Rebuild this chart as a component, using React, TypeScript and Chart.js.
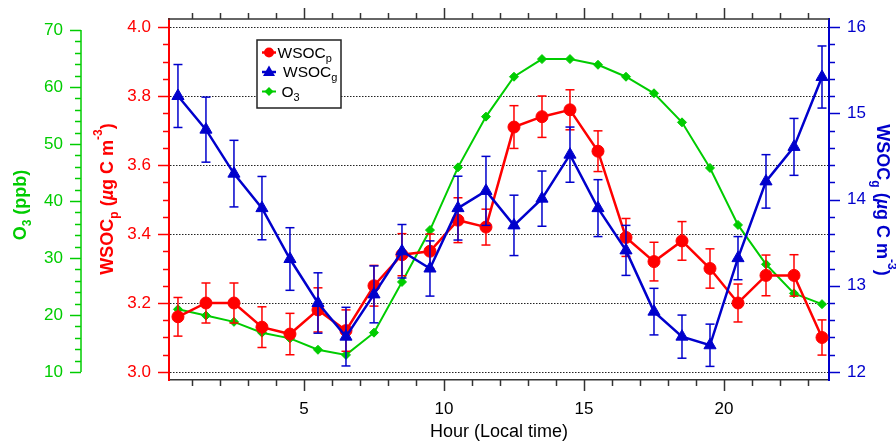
import React, { useEffect, useRef } from 'react';
import { Chart, registerables } from 'chart.js';

Chart.register(...registerables);

const FAMILY = "'Liberation Sans', Arial, Helvetica, sans-serif";

// ---- data ----
const HOURS = [0.5, 1.5, 2.5, 3.5, 4.5, 5.5, 6.5, 7.5, 8.5, 9.5, 10.5, 11.5, 12.5, 13.5, 14.5, 15.5, 16.5, 17.5, 18.5, 19.5, 20.5, 21.5, 22.5, 23.5];
const WSOCP = [3.16, 3.20, 3.20, 3.13, 3.11, 3.18, 3.12, 3.25, 3.34, 3.35, 3.44, 3.42, 3.71, 3.74, 3.76, 3.64, 3.39, 3.32, 3.38, 3.30, 3.20, 3.28, 3.28, 3.10];
const WSOCP_ERR = [0.056, 0.058, 0.058, 0.059, 0.06, 0.064, 0.06, 0.059, 0.061, 0.05, 0.065, 0.052, 0.062, 0.06, 0.058, 0.059, 0.055, 0.056, 0.056, 0.057, 0.055, 0.059, 0.06, 0.051];
const WSOCG = [15.20, 14.81, 14.30, 13.90, 13.31, 12.80, 12.41, 12.90, 13.40, 13.20, 13.90, 14.10, 13.70, 14.01, 14.52, 13.90, 13.41, 12.70, 12.41, 12.31, 13.32, 14.21, 14.61, 15.42];
const WSOCG_ERR = [0.365, 0.377, 0.386, 0.367, 0.363, 0.35, 0.34, 0.33, 0.31, 0.32, 0.37, 0.4, 0.35, 0.32, 0.32, 0.33, 0.29, 0.27, 0.25, 0.245, 0.25, 0.31, 0.33, 0.36];
const O3 = [21.0, 19.9, 18.8, 16.9, 15.9, 13.9, 13.0, 16.9, 25.8, 34.9, 45.9, 54.8, 61.8, 64.9, 64.9, 63.9, 61.8, 58.9, 53.8, 45.8, 35.8, 28.9, 23.8, 21.9];

// ---- ticks ----
const X_MAJOR = [5, 10, 15, 20];
const X_MINOR = [1, 2, 3, 4, 5, 6, 7, 8, 9, 10, 11, 12, 13, 14, 15, 16, 17, 18, 19, 20, 21, 22, 23];
const RED_MAJOR = [3.0, 3.2, 3.4, 3.6, 3.8, 4.0];
const GREEN_MAJOR = [10, 20, 30, 40, 50, 60, 70];
const BLUE_MAJOR = [12, 13, 14, 15, 16];

const RED = '#FF0000';
const BLUE = '#0000CC';
const GREEN = '#00CC00';
const FRAME = '#333333';

function range(a: number, b: number, s: number): number[] {
  const out: number[] = [];
  for (let i = 0; a + i * s <= b + 1e-9; i++) out.push(+(a + i * s).toFixed(4));
  return out;
}
const RED_MINOR = range(3.0, 4.0, 0.05);
const GREEN_MINOR = range(10, 70, 2);
const BLUE_MINOR = range(12, 16, 0.2);

function line(ctx: CanvasRenderingContext2D, x1: number, y1: number, x2: number, y2: number) {
  ctx.beginPath();
  ctx.moveTo(x1, y1);
  ctx.lineTo(x2, y2);
  ctx.stroke();
}

type Part = { t: string; sub?: boolean; sup?: boolean; italic?: boolean };

function drawRich(
  ctx: CanvasRenderingContext2D, parts: Part[], size: number, bold: boolean, color: string,
  x: number, y: number, rot: number, center: boolean
) {
  ctx.save();
  ctx.translate(x, y);
  ctx.rotate(rot);
  const fontFor = (p: Part) => {
    const s = p.sub || p.sup ? Math.round(size * 0.68) : size;
    return `${p.italic ? 'italic ' : ''}${bold ? 'bold ' : ''}${s}px ${FAMILY}`;
  };
  let w = 0;
  parts.forEach((p) => { ctx.font = fontFor(p); w += ctx.measureText(p.t).width; });
  let cx = center ? -w / 2 : 0;
  ctx.fillStyle = color;
  ctx.textAlign = 'left';
  ctx.textBaseline = 'alphabetic';
  parts.forEach((p) => {
    ctx.font = fontFor(p);
    const dy = p.sub ? size * 0.27 : p.sup ? -size * 0.62 : 0;
    ctx.fillText(p.t, cx, dy);
    cx += ctx.measureText(p.t).width;
  });
  ctx.restore();
}

const errorBarPlugin = {
  id: 'errorBars',
  beforeDatasetDraw(chart: any, args: any) {
    const ds = chart.data.datasets[args.index];
    const errs: number[] | undefined = ds.errorValues;
    if (!errs) return;
    const meta = args.meta;
    const ys = chart.scales[meta.yAxisID];
    const ctx: CanvasRenderingContext2D = chart.ctx;
    ctx.save();
    ctx.strokeStyle = ds.borderColor;
    ctx.lineWidth = 1.5;
    meta.data.forEach((pt: any, i: number) => {
      const v = ds.data[i].y;
      const top = ys.getPixelForValue(v + errs[i]);
      const bot = ys.getPixelForValue(v - errs[i]);
      line(ctx, pt.x, top, pt.x, bot);
      line(ctx, pt.x - 4.5, top, pt.x + 4.5, top);
      line(ctx, pt.x - 4.5, bot, pt.x + 4.5, bot);
    });
    ctx.restore();
  },
};

const decorPlugin = {
  id: 'decor',
  beforeDatasetsDraw(chart: any) {
    const ctx: CanvasRenderingContext2D = chart.ctx;
    const a = chart.chartArea;
    const yP = chart.scales.yP;
    ctx.save();
    ctx.strokeStyle = '#222';
    ctx.lineWidth = 1;
    ctx.setLineDash([1.5, 1.5]);
    RED_MAJOR.forEach((v) => {
      const y = Math.round(yP.getPixelForValue(v)) + 0.5;
      line(ctx, a.left + 1, y, a.right - 1, y);
    });
    ctx.restore();
  },
  afterDraw(chart: any) {
    const ctx: CanvasRenderingContext2D = chart.ctx;
    const a = chart.chartArea;
    const { x, yP, yO3, yG } = chart.scales;
    const L = a.left, R = a.right, T = a.top, B = a.bottom;
    ctx.save();
    // top frame + x ticks
    ctx.strokeStyle = FRAME;
    ctx.lineWidth = 1.5;
    line(ctx, L - 1, T, R, T);
    X_MINOR.forEach((v) => {
      const px = Math.round(x.getPixelForValue(v)) + 0.5;
      const len = X_MAJOR.includes(v) ? 11 : 6;
      line(ctx, px, B, px, B + len);
      line(ctx, px, T, px, T - len);
    });
    // red ticks
    ctx.strokeStyle = RED;
    RED_MINOR.forEach((v) => {
      const py = Math.round(yP.getPixelForValue(v)) + 0.5;
      const len = RED_MAJOR.some((m) => Math.abs(m - v) < 1e-6) ? 11 : 6;
      line(ctx, L - len, py, L, py);
    });
    // green axis
    ctx.strokeStyle = GREEN;
    const gx = yO3.right;
    line(ctx, gx, yO3.getPixelForValue(10), gx, yO3.getPixelForValue(70));
    GREEN_MINOR.forEach((v) => {
      const py = Math.round(yO3.getPixelForValue(v)) + 0.5;
      const len = GREEN_MAJOR.includes(v) ? 11 : 6;
      line(ctx, gx - len, py, gx, py);
    });
    // blue ticks
    ctx.strokeStyle = BLUE;
    BLUE_MINOR.forEach((v) => {
      const py = Math.round(yG.getPixelForValue(v)) + 0.5;
      const len = BLUE_MAJOR.some((m) => Math.abs(m - v) < 1e-6) ? 11 : 6;
      line(ctx, R, py, R + len, py);
    });
    ctx.restore();

    // axis titles
    drawRich(ctx, [{ t: 'O' }, { t: '3', sub: true }, { t: ' (ppb)' }], 18, true, GREEN, 26, 205, -Math.PI / 2, true);
    drawRich(ctx, [{ t: 'WSOC' }, { t: 'p', sub: true }, { t: ' (' }, { t: 'µ', italic: true }, { t: 'g C m' }, { t: '-3', sup: true }, { t: ')' }], 18, true, RED, 113, 199, -Math.PI / 2, true);
    drawRich(ctx, [{ t: 'WSOC' }, { t: 'g', sub: true }, { t: ' (' }, { t: 'µ', italic: true }, { t: 'g C m' }, { t: '-3', sup: true }, { t: ')' }], 18, true, BLUE, 877, 200, Math.PI / 2, true);

    // legend
    ctx.save();
    ctx.fillStyle = '#fff';
    ctx.fillRect(257, 40, 84, 68);
    ctx.strokeStyle = '#222';
    ctx.lineWidth = 1.5;
    ctx.strokeRect(257, 40, 84, 68);
    // red entry
    ctx.strokeStyle = RED; ctx.fillStyle = RED; ctx.lineWidth = 2.5;
    line(ctx, 262, 52.5, 276, 52.5);
    ctx.beginPath(); ctx.arc(269, 52.5, 5, 0, Math.PI * 2); ctx.fill();
    // blue entry
    ctx.strokeStyle = BLUE; ctx.fillStyle = BLUE;
    line(ctx, 262, 72, 276, 72);
    ctx.beginPath(); ctx.moveTo(269, 65.5); ctx.lineTo(275, 76); ctx.lineTo(263, 76); ctx.closePath(); ctx.fill();
    // green entry
    ctx.strokeStyle = GREEN; ctx.fillStyle = GREEN; ctx.lineWidth = 2;
    line(ctx, 262, 91.5, 276, 91.5);
    ctx.beginPath(); ctx.moveTo(269, 87); ctx.lineTo(273.5, 91.5); ctx.lineTo(269, 96); ctx.lineTo(264.5, 91.5); ctx.closePath(); ctx.fill();
    ctx.restore();
    drawRich(ctx, [{ t: 'WSOC' }, { t: 'p', sub: true }], 15.5, false, '#000', 277.5, 57.5, 0, false);
    drawRich(ctx, [{ t: 'WSOC' }, { t: 'g', sub: true }], 15.5, false, '#000', 283, 77, 0, false);
    drawRich(ctx, [{ t: 'O' }, { t: '3', sub: true }], 15.5, false, '#000', 281.5, 97, 0, false);
  },
};

export default function App() {
  const ref = useRef<HTMLCanvasElement | null>(null);

  useEffect(() => {
    if (!ref.current) return;
    const toXY = (vals: number[]) => HOURS.map((h, i) => ({ x: h, y: vals[i] }));
    const tickFont = { family: FAMILY, size: 17 };
    const hiddenGrid = { display: true, drawOnChartArea: false, drawTicks: true, tickLength: 11, tickColor: 'rgba(0,0,0,0)' };

    const chart = new Chart(ref.current, {
      type: 'line',
      data: {
        datasets: [
          {
            label: 'WSOCg',
            data: toXY(WSOCG),
            errorValues: WSOCG_ERR,
            yAxisID: 'yG',
            borderColor: BLUE,
            backgroundColor: BLUE,
            borderWidth: 2.5,
            pointStyle: 'triangle',
            pointRadius: 7,
            pointBorderWidth: 1,
            tension: 0,
            order: 0,
          } as any,
          {
            label: 'WSOCp',
            data: toXY(WSOCP),
            errorValues: WSOCP_ERR,
            yAxisID: 'yP',
            borderColor: RED,
            backgroundColor: RED,
            borderWidth: 2.5,
            pointStyle: 'circle',
            pointRadius: 6,
            pointBorderWidth: 1,
            tension: 0,
            order: 1,
          } as any,
          {
            label: 'O3',
            data: toXY(O3),
            yAxisID: 'yO3',
            borderColor: GREEN,
            backgroundColor: GREEN,
            borderWidth: 2,
            pointStyle: 'rectRot',
            pointRadius: 4.5,
            pointBorderWidth: 1,
            tension: 0,
            order: 2,
          } as any,
        ],
      },
      options: {
        animation: false,
        responsive: true,
        maintainAspectRatio: false,
        layout: { padding: { top: 19, left: 0, right: 0, bottom: 0 } },
        plugins: { legend: { display: false }, tooltip: { enabled: false } },
        scales: {
          x: {
            type: 'linear',
            position: 'bottom',
            min: 0.18,
            max: 23.75,
            afterBuildTicks: (s: any) => { s.ticks = X_MAJOR.map((v) => ({ value: v })); },
            afterFit: (s: any) => { s.height = 61; },
            ticks: { color: '#000', font: tickFont, padding: 8, maxRotation: 0, autoSkip: false, callback: (v: any) => String(v) },
            grid: hiddenGrid,
            border: { display: true, color: FRAME, width: 1.5 },
            title: { display: true, text: 'Hour (Local time)', color: '#000', font: { family: FAMILY, size: 18, lineHeight: 1 }, padding: { top: 0, bottom: 0 } },
          },
          yP: {
            type: 'linear',
            position: 'left',
            weight: 0,
            min: 3 - 8 / 345,
            max: 3 - 8 / 345 + 361 / 345,
            afterBuildTicks: (s: any) => { s.ticks = RED_MAJOR.map((v) => ({ value: v })); },
            afterFit: (s: any) => { s.width = 88; },
            ticks: { color: RED, font: tickFont, padding: 7, callback: (v: any) => Number(v).toFixed(1) },
            grid: hiddenGrid,
            border: { display: true, color: RED, width: 2 },
          },
          yO3: {
            type: 'linear',
            position: 'left',
            weight: 1,
            min: 10 - 8 / 5.7,
            max: 10 - 8 / 5.7 + 361 / 5.7,
            afterBuildTicks: (s: any) => { s.ticks = GREEN_MAJOR.map((v) => ({ value: v })); },
            afterFit: (s: any) => { s.width = 81; },
            ticks: { color: GREEN, font: tickFont, padding: 7, callback: (v: any) => String(v) },
            grid: hiddenGrid,
            border: { display: false },
          },
          yG: {
            type: 'linear',
            position: 'right',
            min: 12 - 8 / 86.25,
            max: 12 - 8 / 86.25 + 361 / 86.25,
            afterBuildTicks: (s: any) => { s.ticks = BLUE_MAJOR.map((v) => ({ value: v })); },
            afterFit: (s: any) => { s.width = 67; },
            ticks: { color: BLUE, font: tickFont, padding: 7, callback: (v: any) => String(v) },
            grid: hiddenGrid,
            border: { display: true, color: BLUE, width: 2 },
          },
        },
      } as any,
      plugins: [decorPlugin, errorBarPlugin],
    });
    return () => chart.destroy();
  }, []);

  return (
    <div style={{ position: 'fixed', left: 0, top: 0, width: 896, height: 441, background: '#fff' }}>
      <canvas ref={ref} />
    </div>
  );
}
